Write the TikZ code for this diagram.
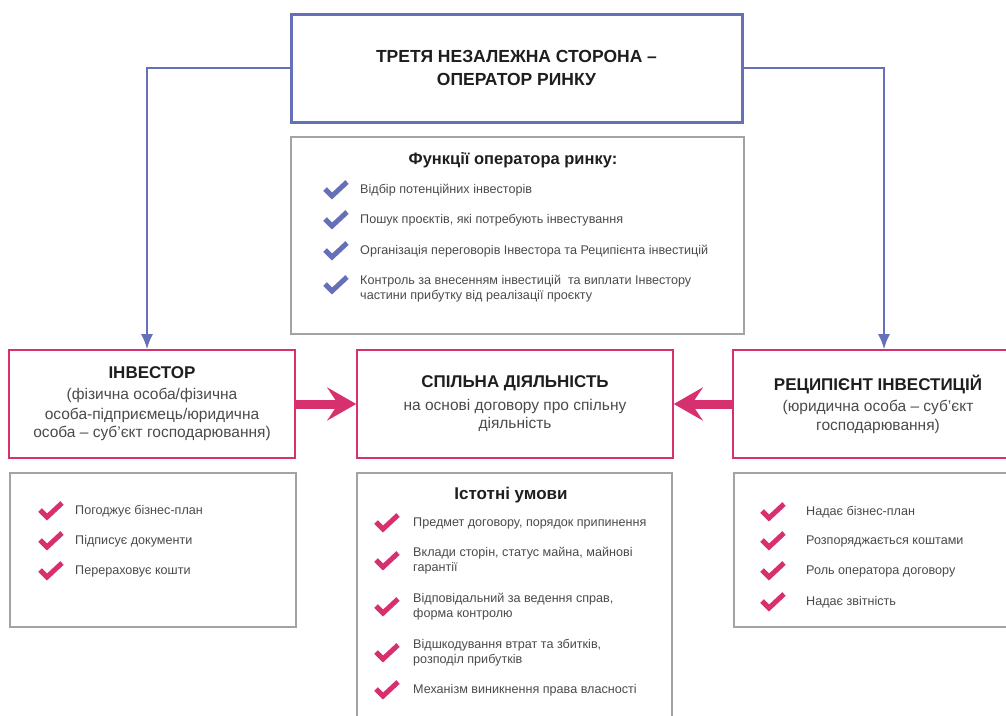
\documentclass[tikz,border=0pt]{standalone}
\usepackage{fontspec}
\setmainfont{Liberation Sans}
\usetikzlibrary{arrows.meta}

\definecolor{opblue}{HTML}{6670B8}
\definecolor{actpink}{HTML}{D6306F}
\definecolor{framegray}{HTML}{A3A3A3}
\definecolor{txtdark}{HTML}{1E1E1E}
\definecolor{txtgray}{HTML}{4A4A4A}

\begin{document}
\begin{tikzpicture}[
  x=1pt, y=-1pt,
  topbox/.style={rectangle, draw=opblue, line width=3pt, minimum width=451pt, minimum height=108pt, align=center, text=txtdark, font=\bfseries\fontsize{17.5}{23}\selectfont},
  sidebox/.style={rectangle, draw=actpink, line width=1.6pt, minimum height=108pt, align=center, text=txtgray, font=\fontsize{15.5}{18.5}\selectfont},
  listbox/.style={rectangle, draw=framegray, line width=1.6pt, anchor=north west},
  listhead/.style={font=\bfseries\fontsize{17}{20}\selectfont, text=txtdark, inner sep=0pt},
  item/.style={anchor=west, align=left, inner sep=0pt, text=txtgray, font=\fontsize{12.6}{15}\selectfont},
  link/.style={draw=opblue, line width=1.8pt, -{Latex[length=15pt, width=12pt]}},
  fat/.style={draw=actpink, line width=9pt, -{Stealth[length=29pt, width=33pt, inset=11pt]}},
  chk/.pic={\draw[line width=5pt, line join=miter, line cap=butt] (-11,-1) -- (-4,6) -- (11,-8);}
]
\useasboundingbox (0,0) rectangle (1006,715);

% operator
\node[topbox] (top) at (516.5,68) {ТРЕТЯ НЕЗАЛЕЖНА СТОРОНА –\\ ОПЕРАТОР РИНКУ};

\node[listbox, minimum width=453pt, minimum height=197pt] (func) at (290,136) {};
\node[listhead, font=\bfseries\fontsize{16.5}{20}\selectfont] (functitle) at (513,160) {Функції оператора ринку:};
\node[item] (f1) at (360,190) {Відбір потенційних інвесторів};
\node[item] (f2) at (360,220) {Пошук проєктів, які потребують інвестування};
\node[item] (f3) at (360,251) {Організація переговорів Інвестора та Реципієнта інвестицій};
\node[item] (f4) at (360,289) {Контроль за внесенням інвестицій~ та виплати Інвестору\\ частини прибутку від реалізації проєкту};
\pic[color=opblue] at ([xshift=-24pt]f1.west) {chk};
\pic[color=opblue] at ([xshift=-24pt]f2.west) {chk};
\pic[color=opblue] at ([xshift=-24pt]f3.west) {chk};
\pic[color=opblue] at ([xshift=-24pt,yshift=4pt]f4.west) {chk};

% three parties
\node[sidebox, minimum width=286pt] (inv) at (152,404) {{\bfseries\fontsize{17}{20}\selectfont\color{txtdark}ІНВЕСТОР}\\[2pt] (фізична особа/фізична\\[1.5pt] особа-підприємець/юридична\\ особа – суб’єкт господарювання)};
\node[sidebox, minimum width=316pt] (joint) at (515,404) {{\bfseries\fontsize{17}{20}\selectfont\color{txtdark}СПІЛЬНА ДІЯЛЬНІСТЬ}\\[4pt] на основі договору про спільну\\ діяльність};
\node[sidebox, minimum width=290pt] (recip) at (878,404) {{\bfseries\fontsize{17}{20}\selectfont\color{txtdark}РЕЦИПІЄНТ ІНВЕСТИЦІЙ}\\[3pt] (юридична особа – суб’єкт\\ господарювання)};

\draw[link] (top.west) -| ([xshift=-5pt]inv.north);
\draw[link] (top.east) -| ([xshift=6pt]recip.north);
\draw[fat] (inv.east) -- (joint.west);
\draw[fat] (recip.west) -- (joint.east);

% investor duties
\node[listbox, minimum width=286pt, minimum height=154pt] (invlist) at (9,472) {};
\node[item] (i1) at (75,511) {Погоджує бізнес-план};
\node[item] (i2) at (75,541) {Підписує документи};
\node[item] (i3) at (75,571) {Перераховує кошти};
\pic[color=actpink] at ([xshift=-24pt]i1.west) {chk};
\pic[color=actpink] at ([xshift=-24pt]i2.west) {chk};
\pic[color=actpink] at ([xshift=-24pt]i3.west) {chk};

% essential terms
\node[listbox, minimum width=315pt, minimum height=300pt] (terms) at (356,472) {};
\node[listhead] (termtitle) at (511,495) {Істотні умови};
\node[item] (t1) at (413,523) {Предмет договору, порядок припинення};
\node[item] (t2) at (413,561) {Вклади сторін, статус майна, майнові\\ гарантії};
\node[item] (t3) at (413,607) {Відповідальний за ведення справ,\\ форма контролю};
\node[item] (t4) at (413,653) {Відшкодування втрат та збитків,\\ розподіл прибутків};
\node[item] (t5) at (413,690) {Механізм виникнення права власності};
\pic[color=actpink] at ([xshift=-26pt]t1.west) {chk};
\pic[color=actpink] at ([xshift=-26pt]t2.west) {chk};
\pic[color=actpink] at ([xshift=-26pt]t3.west) {chk};
\pic[color=actpink] at ([xshift=-26pt]t4.west) {chk};
\pic[color=actpink] at ([xshift=-26pt]t5.west) {chk};

% recipient duties
\node[listbox, minimum width=290pt, minimum height=154pt] (reclist) at (733,472) {};
\node[item] (r1) at (806,512) {Надає бізнес-план};
\node[item] (r2) at (806,541) {Розпоряджається коштами};
\node[item] (r3) at (806,571) {Роль оператора договору};
\node[item] (r4) at (806,602) {Надає звітність};
\pic[color=actpink] at ([xshift=-33pt]r1.west) {chk};
\pic[color=actpink] at ([xshift=-33pt]r2.west) {chk};
\pic[color=actpink] at ([xshift=-33pt]r3.west) {chk};
\pic[color=actpink] at ([xshift=-33pt]r4.west) {chk};
\end{tikzpicture}
\end{document}
